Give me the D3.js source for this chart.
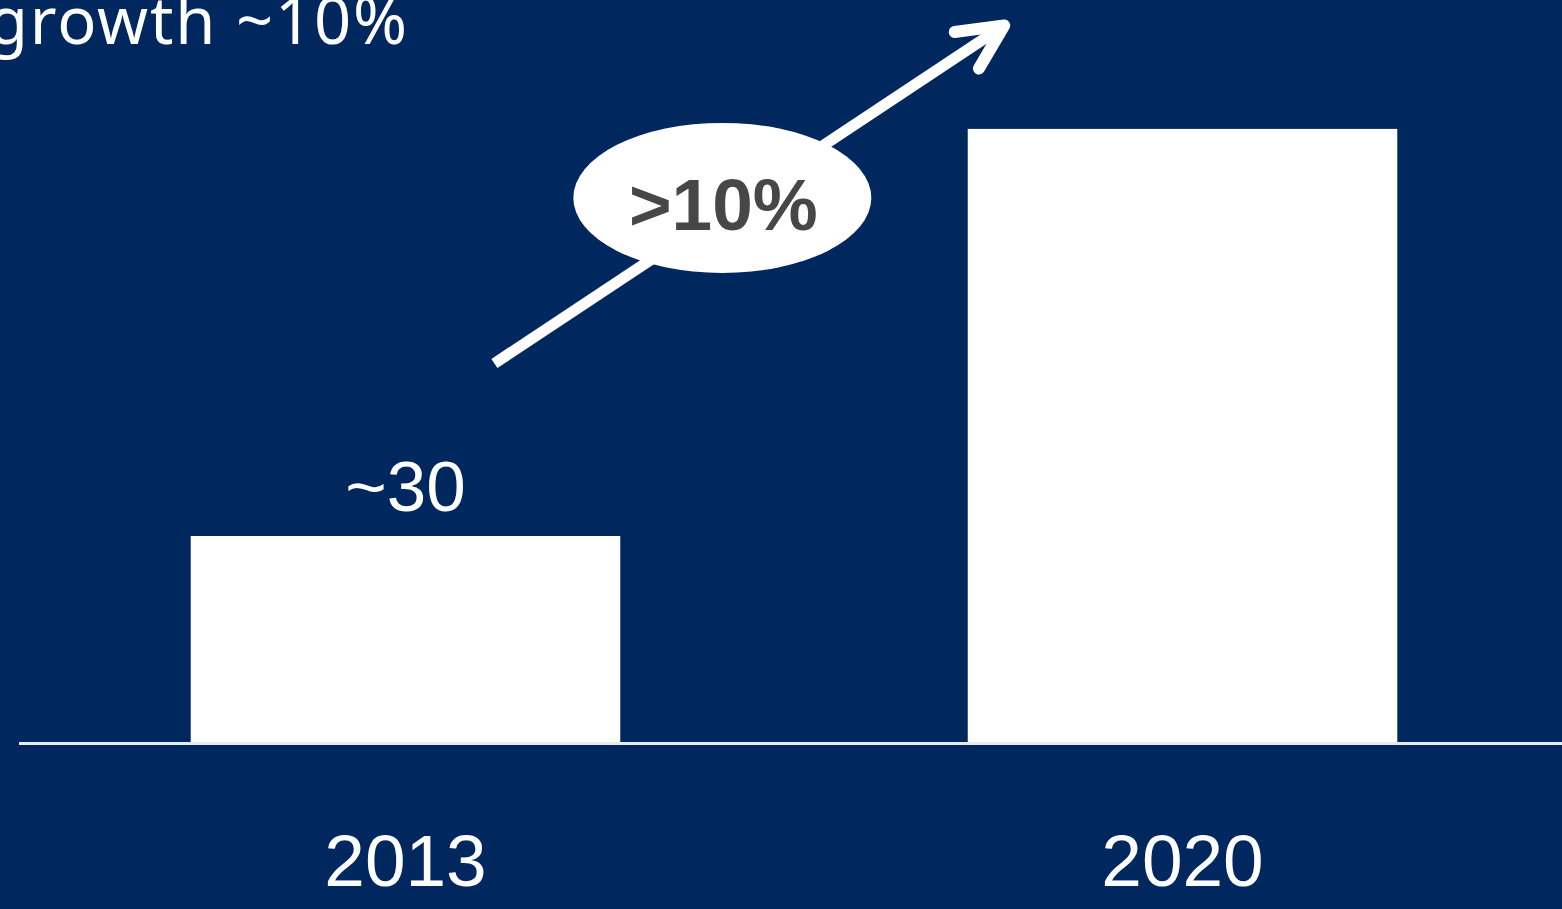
<!DOCTYPE html>
<html>
<head>
<meta charset="utf-8">
<script src="https://cdn.jsdelivr.net/npm/d3@7"></script>
<style>
  html, body { margin: 0; padding: 0; background: #00285e; overflow: hidden; }
  svg { display: block; }
</style>
</head>
<body>
<svg id="chart" width="1562" height="909"></svg>
<script>
// Market size by year
const years = ["2013", "2020"];
const values = [30, 89];
const valueLabels = ["~30", ""];
const growthLabel = ">10%";
const headline = "growth ~10%";

const W = 1562, H = 909;
const NAVY = "#00285e";

const svg = d3.select("#chart");
svg.append("rect").attr("width", W).attr("height", H).attr("fill", NAVY);

const x = d3.scaleBand()
  .domain(years)
  .range([12, 1576])
  .paddingInner(0.4472)
  .paddingOuter(0.23);

const y = d3.scaleLinear()
  .domain([0, 100])
  .range([743, 53]);

const bw = x.bandwidth();

// headline, partially running off the left edge
svg.append("text")
  .attr("x", -12)
  .attr("y", 44)
  .attr("textLength", 419)
  .attr("lengthAdjust", "spacing")
  .attr("fill", "#ffffff")
  .style("font-family", "'Noto Sans', 'Open Sans', sans-serif")
  .style("font-size", "65px")
  .text(headline);

// bars
svg.selectAll("rect.bar")
  .data(years)
  .join("rect")
  .attr("class", "bar")
  .attr("x", d => x(d))
  .attr("y", (d, i) => y(values[i]))
  .attr("width", bw)
  .attr("height", (d, i) => y(0) - y(values[i]))
  .attr("fill", "#ffffff");

// baseline
svg.append("line")
  .attr("x1", 19).attr("x2", W)
  .attr("y1", y(0) + 0.5).attr("y2", y(0) + 0.5)
  .attr("stroke", "#e4ebf5")
  .attr("stroke-width", 3);

// value labels above bars
svg.selectAll("text.value")
  .data(years)
  .join("text")
  .attr("class", "value")
  .attr("x", d => x(d) + bw / 2)
  .attr("y", (d, i) => y(values[i]) - 25)
  .attr("text-anchor", "middle")
  .attr("fill", "#ffffff")
  .style("font-family", "'Liberation Sans', Arial, sans-serif")
  .style("font-size", "71px")
  .text((d, i) => valueLabels[i]);

// category axis labels
svg.selectAll("text.year")
  .data(years)
  .join("text")
  .attr("class", "year")
  .attr("x", d => x(d) + bw / 2)
  .attr("y", 886)
  .attr("text-anchor", "middle")
  .attr("fill", "#ffffff")
  .style("font-family", "'Liberation Sans', Arial, sans-serif")
  .style("font-size", "73px")
  .text(d => d);

// growth arrow from the first bar towards the second
const ax0 = x(years[0]) + bw * 0.707, ay0 = y(55);
const ax1 = x(years[1]) + bw * 0.085, ay1 = y(104);
svg.append("line")
  .attr("x1", ax0).attr("y1", ay0)
  .attr("x2", ax1).attr("y2", ay1)
  .attr("stroke", "#ffffff")
  .attr("stroke-width", 11);

const back = Math.atan2(ay0 - ay1, ax0 - ax1);
const armLen = 50, spread = 26 * Math.PI / 180;
const arm = a => [ax1 + armLen * Math.cos(a), ay1 + armLen * Math.sin(a)];
svg.append("path")
  .attr("d", d3.line()([arm(back + spread), [ax1, ay1], arm(back - spread)]))
  .attr("fill", "none")
  .attr("stroke", "#ffffff")
  .attr("stroke-width", 12)
  .attr("stroke-linecap", "round")
  .attr("stroke-linejoin", "round");

// growth badge
const ex = (ax0 + ax1) / 2 - 27, ey = y(79);
svg.append("ellipse")
  .attr("cx", ex).attr("cy", ey)
  .attr("rx", 149).attr("ry", 75)
  .attr("fill", "#ffffff");
svg.append("text")
  .attr("x", ex + 1)
  .attr("y", ey + 32)
  .attr("text-anchor", "middle")
  .attr("fill", "#474747")
  .style("font-family", "'Liberation Sans', Arial, sans-serif")
  .style("font-weight", "bold")
  .style("font-size", "73px")
  .text(growthLabel);
</script>
</body>
</html>
